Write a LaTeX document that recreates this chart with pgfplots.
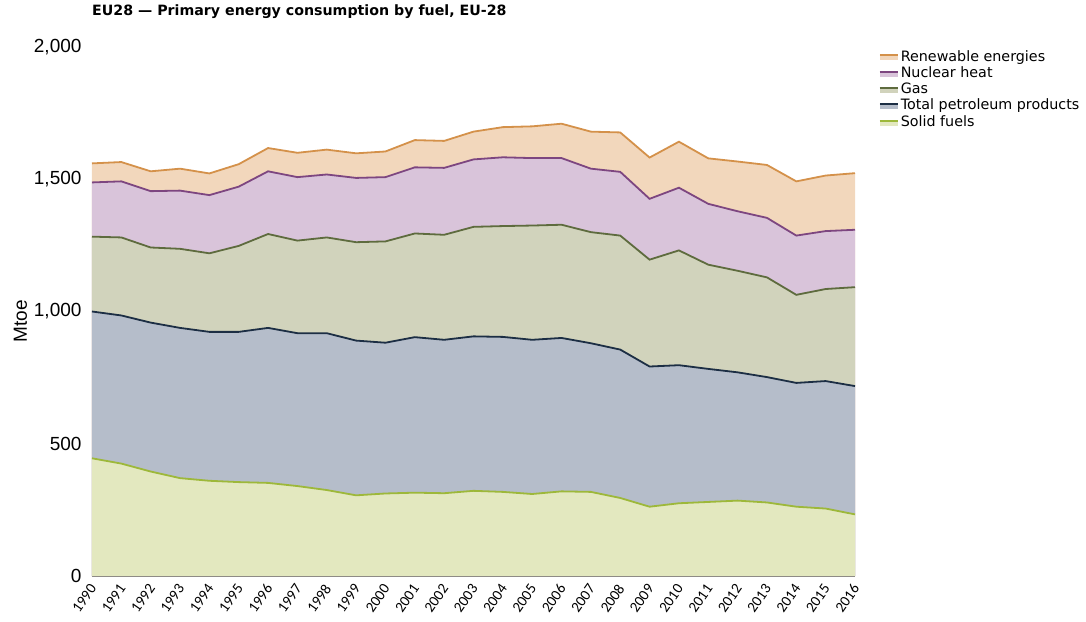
\documentclass[border=0pt]{standalone}
\usepackage{pgfplots}
\pgfplotsset{compat=1.18}
\usepackage{pgfplotstable}
\usepackage{fontspec}
\setmainfont{Liberation Sans}
\newfontfamily\titlefont{DejaVu Sans}
\newfontfamily\tickfont{Carlito}

\definecolor{renewfill}{HTML}{F2D7BC}
\definecolor{renewline}{HTML}{D4914A}
\definecolor{nucfill}{HTML}{D9C4DA}
\definecolor{nucline}{HTML}{7D4680}
\definecolor{gasfill}{HTML}{D1D3BC}
\definecolor{gasline}{HTML}{5E6B3E}
\definecolor{petfill}{HTML}{B5BDCA}
\definecolor{petline}{HTML}{1C2E44}
\definecolor{solfill}{HTML}{E3E8BF}
\definecolor{solline}{HTML}{9DB83A}

% cumulative (stacked) tops, Mtoe
\pgfplotstableread{
year solid petro gas nuclear renew
1990 445 1000 1283 1488 1560
1991 425 985 1280 1492 1565
1992 395 958 1242 1455 1530
1993 370 938 1237 1457 1540
1994 360 923 1220 1440 1522
1995 355 923 1248 1472 1557
1996 352 938 1293 1530 1618
1997 340 918 1268 1508 1600
1998 325 918 1280 1518 1612
1999 305 890 1262 1505 1598
2000 312 882 1265 1508 1605
2001 315 903 1295 1545 1648
2002 313 893 1290 1543 1645
2003 322 906 1320 1575 1680
2004 318 904 1323 1583 1697
2005 310 893 1325 1580 1700
2006 320 900 1328 1580 1710
2007 318 880 1300 1540 1680
2008 295 856 1287 1528 1677
2009 262 792 1196 1426 1582
2010 275 797 1231 1468 1642
2011 280 783 1177 1407 1579
2012 285 770 1154 1379 1567
2013 278 752 1129 1354 1554
2014 262 730 1063 1287 1492
2015 255 737 1085 1304 1514
2016 233 718 1092 1309 1523
}\datatable

\begin{document}
\begin{tikzpicture}
\begin{axis}[
    name=ax,
    width=763pt, height=529pt, scale only axis,
    xmin=1990, xmax=2016, ymin=0, ymax=2000,
    axis x line*=bottom,
    axis y line*=left,
    y axis line style={draw=none},
    x axis line style={draw=black!70, line width=1pt},
    tick style={draw=none},
    xtick={1990,...,2016},
    ytick={0,500,1000,1500,2000},
    /pgf/number format/assume math mode=true,
    scaled y ticks=false,
    yticklabel style={/pgf/number format/1000 sep={,}, font=\fontsize{19}{22}\selectfont, xshift=-7pt},
    xticklabel style={/pgf/number format/1000 sep={}, font=\tickfont\fontsize{15}{17}\selectfont, xshift=3pt, yshift=-7pt, rotate=55, anchor=east},
    ylabel={Mtoe},
    ylabel style={font=\fontsize{19}{22}\selectfont, yshift=0pt, xshift=-10pt},
    legend style={draw=none, fill=none, at={(1.027,1.002)}, anchor=north west,
        font=\titlefont\fontsize{14.3}{16}\selectfont, row sep=0pt,
        legend cell align=left},
    clip=false,
]
\addplot[fill=renewfill, draw=none,
    legend image code/.code={\fill[renewfill] (0pt,-4pt) rectangle (18pt,1pt); \draw[renewline, line width=2pt] (0pt,1pt) -- (18pt,1pt);}]
    table[x=year, y=renew] {\datatable} \closedcycle;
\addlegendentry{Renewable energies}
\addplot[fill=nucfill, draw=none,
    legend image code/.code={\fill[nucfill] (0pt,-4pt) rectangle (18pt,1pt); \draw[nucline, line width=2pt] (0pt,1pt) -- (18pt,1pt);}]
    table[x=year, y=nuclear] {\datatable} \closedcycle;
\addlegendentry{Nuclear heat}
\addplot[fill=gasfill, draw=none,
    legend image code/.code={\fill[gasfill] (0pt,-4pt) rectangle (18pt,1pt); \draw[gasline, line width=2pt] (0pt,1pt) -- (18pt,1pt);}]
    table[x=year, y=gas] {\datatable} \closedcycle;
\addlegendentry{Gas}
\addplot[fill=petfill, draw=none,
    legend image code/.code={\fill[petfill] (0pt,-4pt) rectangle (18pt,1pt); \draw[petline, line width=2pt] (0pt,1pt) -- (18pt,1pt);}]
    table[x=year, y=petro] {\datatable} \closedcycle;
\addlegendentry{Total petroleum products}
\addplot[fill=solfill, draw=none,
    legend image code/.code={\fill[solfill] (0pt,-4pt) rectangle (18pt,1pt); \draw[solline, line width=2pt] (0pt,1pt) -- (18pt,1pt);}]
    table[x=year, y=solid] {\datatable} \closedcycle;
\addlegendentry{Solid fuels}

\addplot[renewline, line width=1.8pt, forget plot] table[x=year, y=renew] {\datatable};
\addplot[nucline, line width=1.8pt, forget plot] table[x=year, y=nuclear] {\datatable};
\addplot[gasline, line width=1.8pt, forget plot] table[x=year, y=gas] {\datatable};
\addplot[petline, line width=1.8pt, forget plot] table[x=year, y=petro] {\datatable};
\addplot[solline, line width=1.8pt, forget plot] table[x=year, y=solid] {\datatable};
\end{axis}
\node[anchor=south west, inner sep=0pt, font=\titlefont\bfseries\fontsize{14.2}{16}\selectfont]
    at ([yshift=28pt]ax.north west) {EU28 — Primary energy consumption by fuel, EU-28};
\pgfresetboundingbox
\path[use as bounding box] ([xshift=-92pt,yshift=-45pt]ax.south west) rectangle ([xshift=231pt,yshift=47pt]ax.north east);
\end{tikzpicture}
\end{document}
